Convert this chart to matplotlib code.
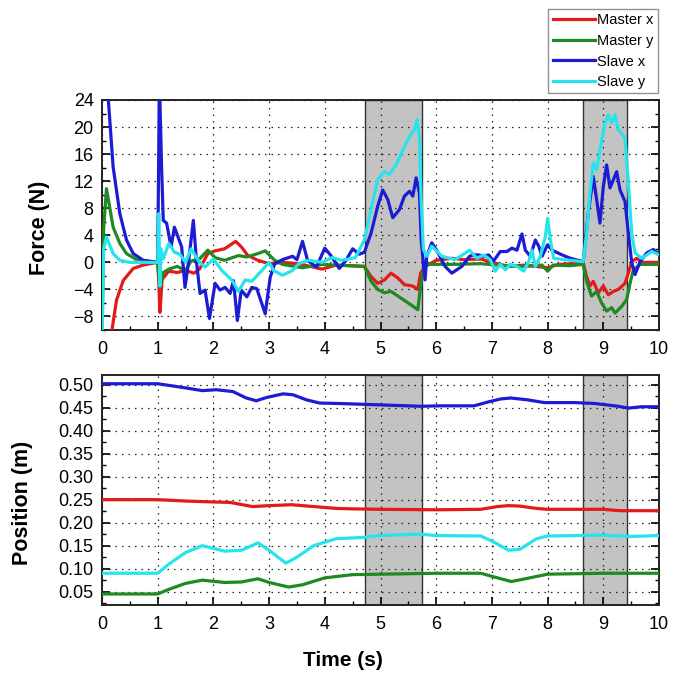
import matplotlib
matplotlib.use("Agg")
import matplotlib.pyplot as plt
from matplotlib.ticker import MultipleLocator

plt.rcParams['font.family'] = ['Liberation Sans', 'DejaVu Sans']

# ---- force data (N) ----
t_fmx = [0, 0.17, 0.26, 0.38, 0.56, 0.74, 1.0, 1.02, 1.04, 1.08, 1.2, 1.35, 1.5, 1.65, 1.75,
         1.9, 2.03, 2.2, 2.4, 2.5, 2.62, 2.8, 3.0, 3.24, 3.53, 3.95, 4.2, 4.5, 4.71, 4.83,
         4.95, 5.07, 5.19, 5.31, 5.43, 5.58, 5.67, 5.72, 5.8, 6.0, 6.28, 6.5, 6.8, 7.0,
         7.3, 7.6, 7.99, 8.2, 8.45, 8.64, 8.7, 8.76, 8.82, 8.91, 9.0, 9.09, 9.18, 9.27,
         9.39, 9.45, 9.51, 9.6, 9.69, 10]
f_mx = [-40, -10.5, -5.6, -2.7, -0.9, -0.4, 0, -3, -7.4, -2.5, -1.3, -1.5, -1.2, -1.6, -1.0,
        1.3, 1.7, 2.0, 3.1, 2.3, 1.0, 0.3, -0.2, 0, -0.2, -1.0, -0.4, -0.5, -0.6, -2.1,
        -3.1, -2.6, -1.6, -2.3, -3.3, -3.5, -4.0, -1.6, -0.6, 0.3, 0.6, 0.4, 0.5, 0,
        -0.6, -0.4, -0.8, -0.3, -0.2, -0.1, -2.1, -3.5, -2.8, -4.5, -3.5, -4.8, -4.3, -4.0,
        -3.1, -1.6, 0.1, 0.6, 0, 0]

t_fmy = [0, 0.03, 0.08, 0.2, 0.32, 0.44, 0.62, 1.0, 1.02, 1.04, 1.1, 1.2, 1.35, 1.5, 1.6,
         1.75, 1.9, 2.03, 2.2, 2.45, 2.6, 2.8, 2.93, 3.1, 3.24, 3.6, 3.95, 4.44, 4.71, 4.83,
         4.95, 5.07, 5.19, 5.37, 5.55, 5.67, 5.72, 5.77, 5.85, 6.3, 6.8, 7.2, 7.6, 7.9,
         8.0, 8.1, 8.4, 8.64, 8.7, 8.79, 8.88, 8.97, 9.06, 9.15, 9.21, 9.33, 9.42, 9.48,
         9.54, 9.66, 10]
f_my = [-12, 5, 10.9, 5.2, 2.8, 1.3, 0.4, 0, -2, -3.7, -1.5, -1.0, -0.6, -1.2, 0.2,
        0.5, 1.8, 0.7, 0.3, 1.0, 0.8, 1.3, 1.7, 0.3, -0.3, -0.8, -0.3, -0.5, -0.6, -2.8,
        -4.0, -4.5, -4.3, -5.3, -6.3, -7.0, -3.5, -1.1, -0.3, -0.3, -0.2, -0.5, -0.6, -0.4,
        -1.3, -0.4, -0.5, -0.3, -2.8, -5.0, -4.3, -6.0, -7.2, -6.7, -7.5, -6.5, -5.5, -3.1,
        -1.1, -0.3, -0.3]

t_fsx = [0, 0.11, 0.2, 0.32, 0.44, 0.56, 0.74, 1.0, 1.03, 1.07, 1.1, 1.16, 1.24, 1.3, 1.43,
         1.49, 1.55, 1.64, 1.7, 1.76, 1.85, 1.93, 2.03, 2.12, 2.21, 2.3, 2.36, 2.43, 2.5,
         2.6, 2.69, 2.78, 2.93, 3.02, 3.1, 3.24, 3.42, 3.5, 3.6, 3.69, 3.85, 4.0, 4.1, 4.26,
         4.38, 4.5, 4.62, 4.71, 4.83, 4.95, 5.04, 5.13, 5.22, 5.34, 5.43, 5.52, 5.58, 5.64,
         5.7, 5.73, 5.8, 5.83, 5.92, 6.0, 6.16, 6.28, 6.46, 6.6, 6.67, 6.76, 6.85, 6.94,
         7.03, 7.15, 7.27, 7.36, 7.45, 7.54, 7.6, 7.69, 7.78, 7.84, 7.9, 8.0, 8.08, 8.26,
         8.41, 8.64, 8.73, 8.82, 8.88, 8.94, 9.0, 9.06, 9.12, 9.18, 9.24, 9.3, 9.39, 9.45,
         9.51, 9.57, 9.66, 9.78, 9.9, 10]
f_sx = [40, 24.5, 14.1, 7.2, 3.3, 1.3, 0.3, 0, 27, 14, 6.2, 5.8, 2.3, 5.2, 2.3,
        -3.7, -0.2, 6.2, -0.2, -4.6, -4.1, -8.3, -3.1, -4.1, -3.7, -4.6, -2.7, -8.6, -4.1,
        -5.1, -3.7, -3.9, -7.6, -2.2, -0.2, 0.4, 0.9, 0.4, 3.1, 0.3, -0.7, 2.1, 1.1, -0.9,
        0.3, 2.0, 1.2, 1.5, 4.3, 8.3, 10.7, 9.3, 6.6, 7.8, 9.8, 10.5, 9.8, 12.5,
        10.2, 3.3, -2.6, 0.9, 2.9, 1.9, -0.6, -1.6, -0.6, 0.9, 1.1, 1.1, 0.9, 1.1,
        0.2, 1.6, 1.6, 2.1, 1.8, 4.2, 1.8, 0.9, 3.3, 2.4, 0.9, 2.6, 1.8, 1.1,
        0.6, 0.1, 7.3, 12.7, 9.3, 5.8, 11.2, 14.4, 11.0, 12.2, 13.4, 10.7, 9.0, 4.3,
        0, -1.8, 0.1, 1.4, 1.9, 1.1]

t_fsy = [0, 0.03, 0.08, 0.2, 0.32, 0.5, 1.0, 1.02, 1.04, 1.06, 1.1, 1.2, 1.3, 1.4, 1.5,
         1.6, 1.75, 1.85, 2.0, 2.15, 2.33, 2.45, 2.57, 2.69, 2.87, 3.0, 3.08, 3.24, 3.42,
         3.53, 3.71, 3.95, 4.13, 4.3, 4.55, 4.71, 4.83, 4.95, 5.07, 5.16, 5.28, 5.4, 5.52,
         5.61, 5.66, 5.7, 5.73, 5.77, 5.83, 5.92, 6.1, 6.34, 6.6, 6.73, 6.85, 6.97, 7.06,
         7.15, 7.24, 7.33, 7.45, 7.57, 7.66, 7.72, 7.78, 7.87, 7.96, 8.0, 8.05, 8.11, 8.29,
         8.64, 8.7, 8.76, 8.82, 8.88, 8.94, 9.03, 9.09, 9.15, 9.21, 9.27, 9.39, 9.45, 9.51,
         9.57, 9.69, 9.87, 10]
f_sy = [-12, 2, 3.75, 1.3, 0.3, 0, 0, 7.2, -3.5, 2, 0.5, 2.8, 1.5, 1.2, 0,
        2.0, 0, -0.7, 0.5, -1.2, -2.6, -4.3, -2.6, -2.8, -1.2, 0, -1.2, -1.9, -1.2,
        -0.2, 0.3, 0, 0.7, 0.3, 0.7, 3.3, 7.8, 12.2, 13.4, 13.0, 14.4, 16.6, 18.6,
        19.6, 21.1, 18.0, 9.3, 1.9, 0.9, 2.4, 0.9, 0.4, 1.8, 0.6, 1.1, 0.4, -1.3,
        -0.3, -1.1, -0.3, -0.6, -1.3, 0.1, 1.8, -0.6, 0.9, 3.8, 6.5, 3.3, 0.6, 0.4,
        0.1, 4.3, 10.2, 14.7, 13.7, 16.6, 20.6, 21.8, 20.6, 21.8, 19.6, 18.4, 11.7, 4.3,
        1.4, 0.6, 1.6, 1.1]

# ---- position data (m) ----
t_pmx = [0, 1.0, 1.5, 2.0, 2.3, 2.7, 3.0, 3.4, 3.8, 4.2, 4.5, 5.0, 6.0, 6.8, 7.1, 7.3,
         7.5, 7.8, 8.0, 9.0, 9.3, 10]
p_mx = [0.25, 0.25, 0.247, 0.245, 0.244, 0.235, 0.237, 0.239, 0.235, 0.231, 0.23, 0.229,
        0.228, 0.229, 0.235, 0.237, 0.236, 0.231, 0.229, 0.229, 0.226, 0.226]

t_pmy = [0, 1.0, 1.2, 1.5, 1.8, 2.2, 2.5, 2.8, 3.0, 3.35, 3.6, 4.0, 4.5, 5.0, 6.0, 6.8,
         7.1, 7.35, 7.6, 8.0, 9.0, 10]
p_my = [0.045, 0.045, 0.055, 0.068, 0.075, 0.07, 0.071, 0.078, 0.07, 0.06, 0.065, 0.08,
        0.087, 0.088, 0.09, 0.09, 0.08, 0.072, 0.078, 0.088, 0.09, 0.09]

t_psx = [0, 1.0, 1.5, 1.8, 2.05, 2.35, 2.59, 2.77, 2.95, 3.25, 3.43, 3.67, 3.91, 4.27, 5.0,
         5.72, 6.08, 6.68, 6.92, 7.16, 7.34, 7.64, 7.94, 8.49, 8.85, 9.27, 9.45, 9.69, 10]
p_sx = [0.502, 0.502, 0.493, 0.487, 0.489, 0.485, 0.471, 0.465, 0.472, 0.48, 0.478, 0.467,
        0.46, 0.459, 0.456, 0.453, 0.454, 0.454, 0.462, 0.469, 0.471, 0.467, 0.461, 0.461,
        0.459, 0.453, 0.449, 0.452, 0.452]

t_psy = [0, 1.0, 1.2, 1.5, 1.8, 2.2, 2.5, 2.8, 3.0, 3.3, 3.5, 3.8, 4.2, 4.7, 5.0, 5.7,
         6.0, 6.8, 7.0, 7.3, 7.5, 7.8, 8.0, 9.0, 9.5, 10]
p_sy = [0.09, 0.09, 0.11, 0.135, 0.15, 0.138, 0.14, 0.156, 0.14, 0.112, 0.125, 0.15, 0.165,
        0.168, 0.172, 0.175, 0.172, 0.171, 0.16, 0.14, 0.142, 0.165, 0.171, 0.173, 0.17,
        0.172]

contact_spans = [(4.72, 5.74), (8.64, 9.43)]
labels = ['Master x', 'Master y', 'Slave x', 'Slave y']
colors = ['#e3191c', '#1f8a22', '#1c1cd4', '#26e3ec']

fig = plt.figure(figsize=(6.81, 6.75), dpi=100)
ax1 = fig.add_axes([102 / 681, 1 - 330 / 675, 557 / 681, 230 / 675])
ax2 = fig.add_axes([102 / 681, 1 - 605 / 675, 557 / 681, 230 / 675])


def style(ax):
    for a, b in contact_spans:
        ax.axvspan(a, b, facecolor='#c3c3c3', edgecolor='#333333', lw=1.0, zorder=1)
    ax.set_xlim(0, 10)
    ax.xaxis.set_major_locator(MultipleLocator(1))
    ax.xaxis.set_minor_locator(MultipleLocator(0.5))
    ax.grid(True, which='major', color='#222222', linestyle=(0, (1.2, 4)), lw=0.9)
    ax.tick_params(which='both', direction='in', left=True, right=True,
                   top=False, bottom=True, labelsize=13)
    ax.tick_params(axis='x', pad=8)
    ax.tick_params(axis='y', pad=6)
    ax.tick_params(which='major', length=6, width=1.2)
    ax.tick_params(which='minor', length=3, width=1.0)
    for s in ax.spines.values():
        s.set_linewidth(1.4)
        s.set_color('#222222')


lw = 2.3
lines = []
for t, f, c in zip([t_fmx, t_fmy, t_fsx, t_fsy], [f_mx, f_my, f_sx, f_sy], colors):
    ln, = ax1.plot(t, f, color=c, lw=lw, zorder=3)
    lines.append(ln)
style(ax1)
ax1.set_ylim(-10, 24)
ax1.yaxis.set_major_locator(MultipleLocator(4))
ax1.yaxis.set_minor_locator(MultipleLocator(2))
ax1.set_ylabel('Force (N)', fontsize=15.5, fontweight='bold')
ax1.yaxis.set_label_coords(-0.093, 0.443)

for t, p, c in zip([t_pmx, t_pmy, t_psx, t_psy], [p_mx, p_my, p_sx, p_sy], colors):
    ax2.plot(t, p, color=c, lw=lw, zorder=3)
style(ax2)
ax2.set_ylim(0.021, 0.521)
ax2.yaxis.set_major_locator(MultipleLocator(0.05))
ax2.yaxis.set_minor_locator(MultipleLocator(0.025))
ax2.yaxis.set_major_formatter(matplotlib.ticker.FormatStrFormatter('%.2f'))
ax2.set_ylabel('Position (m)', fontsize=15.5, fontweight='bold')
ax2.yaxis.set_label_coords(-0.124, 0.443)

fig.text(343 / 681, 1 - 660 / 675, 'Time (s)', fontsize=15, fontweight='bold',
         ha='center', va='center')

leg = fig.legend(lines, labels, loc='upper right',
                 bbox_to_anchor=(658 / 681, 1 - 9 / 675), fontsize=10.5,
                 fancybox=False, edgecolor='#777777', borderpad=0.3,
                 labelspacing=0.45, handlelength=2.9, handletextpad=0.15,
                 borderaxespad=0)
leg.get_frame().set_linewidth(1.0)

fig.savefig('out.png', dpi=100)
